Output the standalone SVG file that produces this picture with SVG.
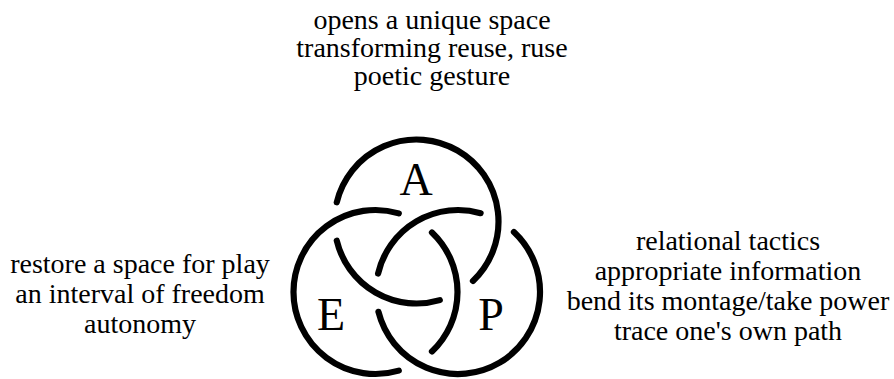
<svg xmlns="http://www.w3.org/2000/svg" width="894" height="379" viewBox="0 0 894 379">
<style>
.ring{fill:none;stroke:#000;stroke-width:6.2;stroke-linecap:round}
.t{font-family:"Liberation Serif","Times New Roman",serif;font-size:28px;fill:#000;text-anchor:middle}
.L{font-family:"Liberation Serif","Times New Roman",serif;font-size:46px;fill:#000;text-anchor:middle}
</style>
<rect width="894" height="379" fill="#fff"/>
<g id="ring-A">
<path class="ring" d="M336.76,202.36 A82,82 0 1 1 472.95,280.98"/>
<path class="ring" d="M439.79,300.12 A82,82 0 0 1 336.76,240.64"/>
<text class="L" x="416" y="195">A</text>
</g>
<g id="ring-E">
<path class="ring" d="M398.79,370.62 A82,82 0 1 1 398.79,213.38"/>
<path class="ring" d="M431.95,232.52 A82,82 0 0 1 431.95,351.48"/>
<text class="L" x="331" y="330">E</text>
</g>
<g id="ring-P">
<path class="ring" d="M513.92,232.03 A82,82 0 1 1 378.44,311.84"/>
<path class="ring" d="M378.10,273.55 A82,82 0 0 1 480.60,213.17"/>
<text class="L" x="491" y="330">P</text>
</g>
<g id="label-A">
<text class="t" x="432" y="29">opens a unique space</text>
<text class="t" x="432" y="57">transforming reuse, ruse</text>
<text class="t" x="432" y="85">poetic gesture</text>
</g>
<g id="label-E">
<text class="t" x="140" y="273">restore a space for play</text>
<text class="t" x="140" y="303">an interval of freedom</text>
<text class="t" x="140" y="333">autonomy</text>
</g>
<g id="label-P">
<text class="t" x="728" y="250">relational tactics</text>
<text class="t" x="728" y="280">appropriate information</text>
<text class="t" x="728" y="310">bend its montage/take power</text>
<text class="t" x="728" y="340">trace one's own path</text>
</g>
<g id="connectors"/>
</svg>
